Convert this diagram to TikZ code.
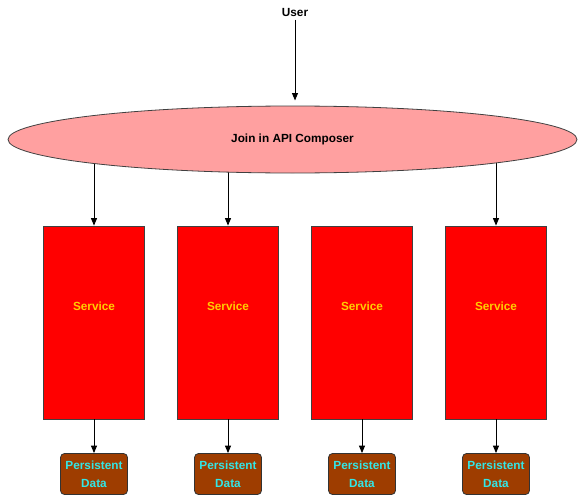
\documentclass[tikz,border=0pt]{standalone}
\usepackage{fontspec}
\setmainfont{Liberation Sans}
\usetikzlibrary{shapes.geometric,arrows.meta,backgrounds}
\definecolor{ellfill}{HTML}{FFA0A0}
\definecolor{svcfill}{HTML}{FF0000}
\definecolor{svctext}{HTML}{FFCC00}
\definecolor{datafill}{HTML}{9E3D00}
\definecolor{datatext}{HTML}{33E6E6}
\definecolor{edge}{HTML}{404040}
\tikzset{
  lbl/.style={font=\fontsize{11.8}{13}\selectfont\bfseries},
  svcbox/.style={draw=edge, line width=0.8pt, fill=svcfill, minimum width=101pt, minimum height=193pt, inner sep=0pt},
  svclbl/.style={lbl, text=svctext, inner sep=0pt},
  databox/.style={draw=black!80, line width=0.8pt, fill=datafill, rounded corners=4pt, minimum width=67pt, minimum height=41pt, inner sep=0pt, text=datatext, align=center, font=\fontsize{11.8}{18}\selectfont\bfseries},
  conn/.style={line width=1pt, -{Triangle[length=7.5pt,width=6pt]}}
}
\begin{document}
\begin{tikzpicture}[x=1pt,y=-1pt]
\useasboundingbox (0,0) rectangle (578,495);
\node[lbl] (user) at (295,12) {User};
\node[ellipse, draw=edge, line width=0.8pt, fill=ellfill, minimum width=569pt, minimum height=67pt, inner sep=0pt, lbl] (ell) at (292.5,139.5) {Join in API Composer};
\coordinate (utip) at (295,100.5);
\draw[conn] (user.south) -- (utip);
\foreach \i/\x in {1/94,2/228,3/362,4/496}{
  \node[svcbox, label={[svclbl, yshift=16.5pt]center:Service}] (svc\i) at (\x,322.5) {};
  \node[databox] (data\i) at (\x,474) {Persistent\\Data};
  \draw[conn] (svc\i.south) -- (data\i.north);
}
\begin{pgfonlayer}{background}
\foreach \i in {1,2,4}{
  \draw[conn] (svc\i.north |- ell.center) -- (svc\i.north);
}
\end{pgfonlayer}
\end{tikzpicture}
\end{document}
